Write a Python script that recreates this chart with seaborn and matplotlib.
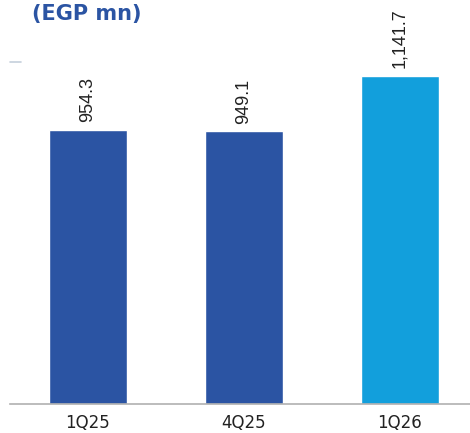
import matplotlib
matplotlib.use("Agg")
import matplotlib.pyplot as plt
import seaborn as sns
import pandas as pd

categories = ["1Q25", "4Q25", "1Q26"]
values = [954.3, 949.1, 1141.7]
labels = ["954.3", "949.1", "1,141.7"]
colors = ["#2b54a3", "#2b54a3", "#129fdc"]

sns.set_theme(style="white")
plt.rcParams['font.family'] = ['DejaVu Sans']

df = pd.DataFrame({"cat": categories, "val": values})
fig = plt.figure(figsize=(4.7, 4.33), dpi=100)
ax = fig.add_axes([10/470, 29/433, 460/470, 345/433])
sns.barplot(data=df, x="cat", y="val", hue="cat", palette=colors, width=0.5,
            legend=False, ax=ax, saturation=1)
ax.set_ylim(0, 1200)
ax.set_xlim(-0.5, 2.45)
for s in ["top", "right", "left"]:
    ax.spines[s].set_visible(False)
ax.spines["bottom"].set_color("#b0b0b0")
ax.spines["bottom"].set_linewidth(1.2)
ax.set_yticks([])
ax.set_xlabel("")
ax.set_ylabel("")
ax.tick_params(axis="x", length=0, pad=7, labelsize=12, colors="#222222")
for i, (v, l) in enumerate(zip(values, labels)):
    ax.text(i, v + 26, l, rotation=90, ha="center", va="bottom", fontsize=13,
            color="#222222", family="Liberation Sans")
ax.plot([-0.5, -0.43], [1190, 1190], color="#c5d0dc", lw=1.2, clip_on=False)
fig.text(32/470, 1 - 14/433, "(EGP mn)", fontsize=15, fontweight="bold", color="#2b54a3",
         ha="left", va="center")
fig.savefig("out.png", dpi=100)
